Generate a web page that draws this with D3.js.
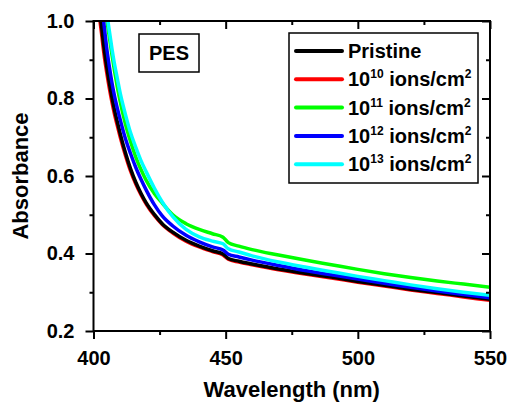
<!DOCTYPE html>
<html>
<head>
<meta charset="utf-8">
<script src="https://cdn.jsdelivr.net/npm/d3@7"></script>
<style>
  body { margin: 0; background: #fff; }
  text { font-family: "Liberation Sans", Arial, Helvetica, sans-serif; font-weight: bold; fill: #000; }
</style>
</head>
<body>
<svg id="chart" width="509" height="403"></svg>
<script>
// Wavelength grid (nm)
const wavelengths = [401, 402, 403, 404, 405, 406, 407, 408, 409, 410, 412, 414, 416, 418, 420, 423, 426, 430, 435, 440, 445, 449, 451, 455, 460, 470, 480, 490, 500, 510, 520, 530, 540, 550];

// Absorbance per fluence
const pristine = [1.108, 1.046, 0.989, 0.930, 0.882, 0.840, 0.802, 0.769, 0.740, 0.712, 0.662, 0.619, 0.584, 0.555, 0.530, 0.501, 0.477, 0.455, 0.434, 0.419, 0.407, 0.399, 0.387, 0.380, 0.373, 0.360, 0.349, 0.339, 0.328, 0.318, 0.308, 0.299, 0.290, 0.282];
const fluence1e10 = [1.085, 1.025, 0.970, 0.913, 0.867, 0.826, 0.790, 0.758, 0.730, 0.703, 0.655, 0.613, 0.579, 0.551, 0.527, 0.498, 0.475, 0.453, 0.432, 0.417, 0.405, 0.396, 0.385, 0.378, 0.371, 0.358, 0.347, 0.337, 0.326, 0.316, 0.306, 0.297, 0.288, 0.279];
const fluence1e11 = [1.250, 1.170, 1.110, 1.058, 1.005, 0.958, 0.912, 0.869, 0.830, 0.795, 0.736, 0.689, 0.649, 0.616, 0.588, 0.555, 0.530, 0.500, 0.477, 0.462, 0.451, 0.442, 0.428, 0.419, 0.410, 0.396, 0.383, 0.371, 0.359, 0.348, 0.338, 0.329, 0.321, 0.313];
const fluence1e12 = [1.170, 1.105, 1.046, 0.989, 0.930, 0.882, 0.840, 0.805, 0.775, 0.748, 0.698, 0.658, 0.622, 0.591, 0.563, 0.526, 0.497, 0.471, 0.447, 0.430, 0.417, 0.409, 0.398, 0.391, 0.383, 0.369, 0.356, 0.345, 0.334, 0.323, 0.313, 0.303, 0.294, 0.286];
const fluence1e13 = [1.300, 1.220, 1.149, 1.084, 1.023, 0.974, 0.928, 0.887, 0.852, 0.817, 0.761, 0.712, 0.674, 0.639, 0.610, 0.569, 0.533, 0.495, 0.462, 0.443, 0.432, 0.425, 0.412, 0.404, 0.394, 0.378, 0.365, 0.353, 0.341, 0.330, 0.319, 0.309, 0.300, 0.292];

// Legend entries (exponent of fluence, null for pristine)
const legendExponents = [null, "10", "11", "12", "13"];
const seriesColors = ["#000000", "#ff0000", "#00ff00", "#0000ff", "#00ffff"];
const seriesValues = [pristine, fluence1e10, fluence1e11, fluence1e12, fluence1e13];
// stacking order of the curves (first drawn first)
const drawOrder = [1, 0, 2, 3, 4];

const xTicks = [400, 450, 500, 550];
const xMinorTicks = [425, 475, 525];
const yTicks = [0.2, 0.4, 0.6, 0.8, 1.0];
const yMinorTicks = [0.3, 0.5, 0.7, 0.9];

const svg = d3.select("#chart");
const plot = { left: 93.5, right: 490, top: 21, bottom: 331 };

const x = d3.scaleLinear().domain([400, 550]).range([plot.left, plot.right]);
const y = d3.scaleLinear().domain([0.2, 1.0]).range([plot.bottom, plot.top]);

svg.append("defs").append("clipPath").attr("id", "plotClip")
  .append("rect")
  .attr("x", plot.left).attr("y", plot.top)
  .attr("width", plot.right - plot.left).attr("height", plot.bottom - plot.top);

// Curves
const line = d3.line()
  .x(d => x(d[0]))
  .y(d => y(d[1]))
  .curve(d3.curveMonotoneX);

const curves = svg.append("g").attr("clip-path", "url(#plotClip)");
drawOrder.forEach(i => {
  curves.append("path")
    .datum(wavelengths.map((w, k) => [w, seriesValues[i][k]]))
    .attr("fill", "none")
    .attr("stroke", seriesColors[i])
    .attr("stroke-width", 3.5)
    .attr("stroke-linejoin", "round")
    .attr("d", line);
});

// Axes
function styleAxis(g) {
  g.selectAll(".domain").remove();
  g.selectAll(".tick line").attr("stroke", "#000").attr("stroke-width", 2);
  g.selectAll(".tick text").style("font-size", "20px").attr("fill", "#000");
}

const xAxis = svg.append("g").attr("transform", `translate(0,${plot.bottom})`)
  .call(d3.axisBottom(x).tickValues(xTicks).tickSize(8).tickPadding(12).tickFormat(d3.format("d")));
styleAxis(xAxis);
const xMinor = svg.append("g").attr("transform", `translate(0,${plot.bottom})`)
  .call(d3.axisBottom(x).tickValues(xMinorTicks).tickSize(4).tickFormat(""));
styleAxis(xMinor);

const yAxis = svg.append("g").attr("transform", `translate(${plot.left},0)`)
  .call(d3.axisLeft(y).tickValues(yTicks).tickSize(8).tickPadding(11).tickFormat(d3.format(".1f")));
styleAxis(yAxis);
const yMinor = svg.append("g").attr("transform", `translate(${plot.left},0)`)
  .call(d3.axisLeft(y).tickValues(yMinorTicks).tickSize(4).tickFormat(""));
styleAxis(yMinor);

// Mirrored top and right axes
const xTop = svg.append("g").attr("transform", `translate(0,${plot.top})`)
  .call(d3.axisBottom(x).tickValues(xTicks).tickSize(8).tickFormat(""));
styleAxis(xTop);
const xTopMinor = svg.append("g").attr("transform", `translate(0,${plot.top})`)
  .call(d3.axisBottom(x).tickValues(xMinorTicks).tickSize(4).tickFormat(""));
styleAxis(xTopMinor);
const yRight = svg.append("g").attr("transform", `translate(${plot.right},0)`)
  .call(d3.axisLeft(y).tickValues(yTicks).tickSize(8).tickFormat(""));
styleAxis(yRight);
const yRightMinor = svg.append("g").attr("transform", `translate(${plot.right},0)`)
  .call(d3.axisLeft(y).tickValues(yMinorTicks).tickSize(4).tickFormat(""));
styleAxis(yRightMinor);

// Frame
svg.append("rect")
  .attr("x", plot.left).attr("y", plot.top)
  .attr("width", plot.right - plot.left).attr("height", plot.bottom - plot.top)
  .attr("fill", "none").attr("stroke", "#000").attr("stroke-width", 2);

// Axis titles
svg.append("text")
  .attr("x", (plot.left + plot.right) / 2).attr("y", 397)
  .attr("text-anchor", "middle").style("font-size", "22px")
  .text("Wavelength (nm)");
svg.append("text")
  .attr("transform", `translate(28,${(plot.top + plot.bottom) / 2}) rotate(-90)`)
  .attr("text-anchor", "middle").style("font-size", "22px")
  .text("Absorbance");

// Sample label
svg.append("rect")
  .attr("x", 139).attr("y", 34).attr("width", 60).attr("height", 38)
  .attr("fill", "#fff").attr("stroke", "#000").attr("stroke-width", 1.5);
svg.append("text")
  .attr("x", 169).attr("y", 60).attr("text-anchor", "middle")
  .style("font-size", "20px").text("PES");

// Legend
const legend = svg.append("g");
legend.append("rect")
  .attr("x", 289).attr("y", 33).attr("width", 189).attr("height", 150)
  .attr("fill", "#fff").attr("stroke", "#000").attr("stroke-width", 1.5);
legendExponents.forEach((e, i) => {
  const cy = 51 + i * 28.3;
  legend.append("line")
    .attr("x1", 296).attr("x2", 342).attr("y1", cy).attr("y2", cy)
    .attr("stroke", seriesColors[i]).attr("stroke-width", 4).attr("stroke-linecap", "round");
  const t = legend.append("text").attr("x", 348).attr("y", cy + 7).style("font-size", "20px");
  if (e === null) {
    t.text("Pristine");
  } else {
    t.append("tspan").text("10");
    t.append("tspan").attr("dy", -8).style("font-size", "12px").text(e);
    t.append("tspan").attr("dy", 8).text(" ions/cm");
    t.append("tspan").attr("dy", -8).style("font-size", "12px").text("2");
  }
});
</script>
</body>
</html>
